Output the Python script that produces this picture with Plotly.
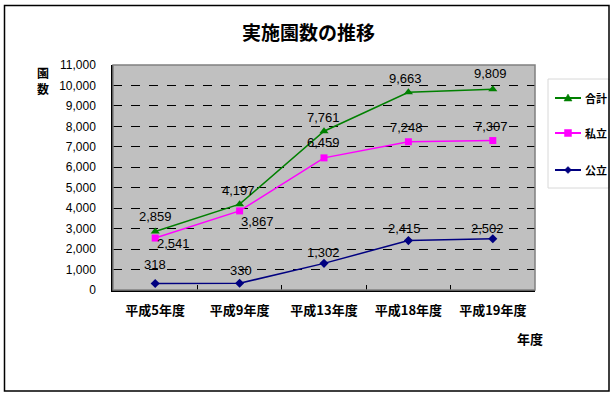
import plotly.graph_objects as go

categories = ["平成5年度", "平成9年度", "平成13年度", "平成18年度", "平成19年度"]
total = [2859, 4197, 7761, 9663, 9809]      # 合計
private = [2541, 3867, 6459, 7248, 7307]    # 私立
public = [318, 330, 1302, 2415, 2502]       # 公立
y_ticks = list(range(0, 11001, 1000))

series = [
    ("合計", total, "#008000", "triangle-up", 8),
    ("私立", private, "#FF00FF", "square", 7),
    ("公立", public, "#000080", "diamond", 7),
]

# label offsets (pixels) for data labels
label_shift = {
    "合計": [(0, 15), (-1, 14), (-1, 14), (-3, 14), (-2, 16)],
    "私立": [(18, -5), (18, -11), (-1, 15), (-2, 14), (-1, 14)],
    "公立": [(0, 19), (1, 13), (-1, 11), (-4, 12), (-5, 10)],
}

W, H = 615, 395
pl, pr, pt, pb = 113, 535, 65, 290
def px(x):
    return (x - pl) / (pr - pl)
def py(y):
    return (pb - y) / (pb - pt)

fig = go.Figure()
for name, vals, color, sym, msize in series:
    fig.add_trace(go.Scatter(
        x=categories, y=vals, name=name, mode="lines+markers",
        line=dict(color=color, width=1.5),
        marker=dict(symbol=sym, size=msize, color=color),
        showlegend=False, hoverinfo="skip",
    ))

annotations = []
for name, vals, color, sym, msize in series:
    for i, (c, v) in enumerate(zip(categories, vals)):
        dx, dy = label_shift[name][i]
        annotations.append(dict(
            x=c, y=v, xref="x", yref="y", text=f"{v:,}", showarrow=False,
            xshift=dx, yshift=dy,
            font=dict(family="Liberation Sans, Arial", size=13, color="#000000"),
        ))

def note(text, x, y, size=13, anchor="center"):
    annotations.append(dict(text=text, x=px(x), y=py(y), xref="paper", yref="paper",
                            showarrow=False, xanchor=anchor, yanchor="middle",
                            font=dict(family="Noto Sans CJK JP", size=size, color="#000")))

note("<b>実施園数の推移</b>", 308, 32, size=19)
note("<b>園</b>", 43, 72, size=12)
note("<b>数</b>", 43, 88, size=12)
note("<b>年度</b>", 530, 338)

shapes = [
    # plot area border (grey)
    dict(type="rect", xref="paper", yref="paper", x0=0, x1=1, y0=0, y1=1,
         line=dict(color="#808080", width=1.5), layer="above"),
]

# legend drawn manually
shapes.append(dict(type="rect", xref="paper", yref="paper", x0=px(548), x1=px(609),
                   y0=py(79), y1=py(188), line=dict(color="#D8D8D8", width=1),
                   fillcolor="white", layer="above"))
legend_y = [98, 133, 170]
for (name, vals, color, sym, msize), ly in zip(series, legend_y):
    shapes.append(dict(type="line", xref="paper", yref="paper", x0=px(555), x1=px(581),
                       y0=py(ly), y1=py(ly), line=dict(color=color, width=2), layer="above"))
    cx = 568
    if sym == "triangle-up":
        path = f"M {px(cx-4)} {py(ly+3)} L {px(cx+4)} {py(ly+3)} L {px(cx)} {py(ly-4)} Z"
    elif sym == "square":
        path = f"M {px(cx-3.5)} {py(ly+3.5)} L {px(cx+3.5)} {py(ly+3.5)} L {px(cx+3.5)} {py(ly-3.5)} L {px(cx-3.5)} {py(ly-3.5)} Z"
    else:
        path = f"M {px(cx-3.5)} {py(ly)} L {px(cx)} {py(ly+3.5)} L {px(cx+3.5)} {py(ly)} L {px(cx)} {py(ly-3.5)} Z"
    shapes.append(dict(type="path", xref="paper", yref="paper", path=path,
                       fillcolor=color, line=dict(color=color, width=0.5), layer="above"))
    note(f"<b>{name}</b>", 583, ly, size=11, anchor="left")

# outer chart border
shapes.append(dict(type="rect", xref="paper", yref="paper", x0=px(4.5), x1=px(609), y0=py(5.5), y1=py(391),
                   line=dict(color="#000000", width=1.5), layer="above"))

fig.update_layout(
    width=W, height=H,
    margin=dict(l=pl, r=W - pr, t=pt, b=H - pb, autoexpand=False),
    paper_bgcolor="white",
    plot_bgcolor="#C0C0C0",
    showlegend=False,
    hovermode=False,
    xaxis=dict(
        type="category", range=[-0.5, 4.5],
        showgrid=False, showline=True, linecolor="#000", linewidth=1.5,
        ticks="inside", tickson="boundaries", ticklen=5, tickcolor="#000",
        ticklabelstandoff=8,
        tickfont=dict(family="Noto Sans CJK JP", size=13, color="#000", weight="bold"),
        zeroline=False,
    ),
    yaxis=dict(
        range=[0, 11000], tickvals=y_ticks, tickformat=",d",
        showgrid=True, gridcolor="#000000", griddash="dash", gridwidth=1,
        showline=True, linecolor="#000", linewidth=1.5,
        ticks="outside", ticklen=13, tickcolor="rgba(0,0,0,0)",
        tickfont=dict(family="Liberation Sans, Arial", size=12, color="#000"),
        zeroline=False,
    ),
    annotations=annotations,
    shapes=shapes,
)

fig.write_html("out.html", config={"displayModeBar": False},
               post_script="document.body.style.margin='0';document.body.style.overflow='hidden';")
